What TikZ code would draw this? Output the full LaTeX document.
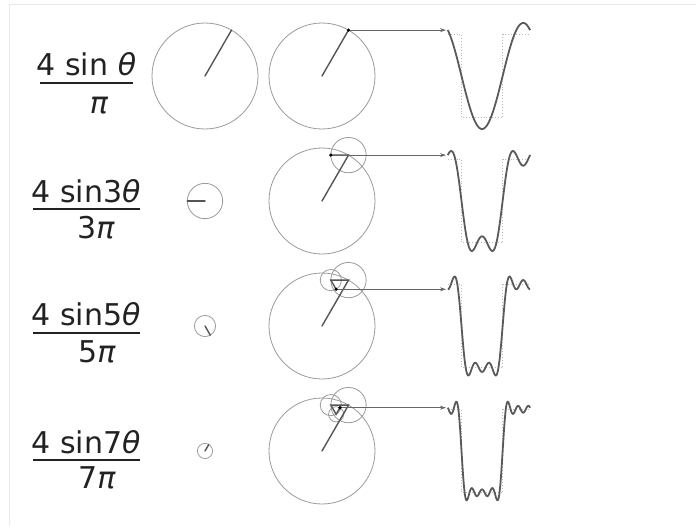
\documentclass[tikz,border=0pt]{standalone}
\usepackage{fontspec}
\setmainfont{DejaVu Sans}
\usetikzlibrary{arrows.meta}
\definecolor{framec}{HTML}{E4EAF4}
\definecolor{circc}{HTML}{9A9A9A}
\definecolor{armc}{HTML}{555555}
\definecolor{wavec}{HTML}{5A5A5A}
\definecolor{sqc}{HTML}{B8B8B8}
\definecolor{inkc}{HTML}{222222}
\tikzset{
  wheel/.style={draw=circc, line width=0.8pt},
  arm/.style={draw=armc, line width=1.4pt, line cap=round},
  wave/.style={draw=wavec, line width=1.8pt, line join=round},
  squarewave/.style={draw=sqc, line width=0.9pt, dotted},
  link/.style={draw=armc!90, line width=0.8pt, -{Stealth[length=6pt,width=4pt]}},
  tipdot/.style={fill=black},
  numer/.style={anchor=base, inner sep=0pt, text=inkc, font=\fontsize{30}{36}\selectfont},
  fbar/.style={draw=inkc, line width=1.8pt},
}
\begin{document}
\begin{tikzpicture}[x=1pt,y=-1pt]
\useasboundingbox (0,0) rectangle (696,527);
% light frame
\draw[framec, line width=1.5pt] (9.5,525.5) -- (9.5,4.5) -- (696,4.5);

% ---------- labels ----------
\node[numer] (n1) at (86.5,75) {4 sin \textit{θ}};
\draw[fbar] (40,83) -- (133,83);
\node[numer] (d1) at (99,113) {\textit{π}};

\node[numer] (n3) at (86,202) {4 sin3\textit{θ}};
\draw[fbar] (33,209) -- (140,209);
\node[numer] (d3) at (96,238) {3\textit{π}};

\node[numer] (n5) at (86,325) {4 sin5\textit{θ}};
\draw[fbar] (33,333) -- (140,333);
\node[numer] (d5) at (97,362) {5\textit{π}};

\node[numer] (n7) at (86,453) {4 sin7\textit{θ}};
\draw[fbar] (33,460) -- (140,460);
\node[numer] (d7) at (97,488) {7\textit{π}};

% ---------- single harmonics (theta = 60 deg) ----------
\draw[wheel] (205,76) circle[radius=53];
\draw[arm] (205,76) -- ++(-60:53);
\draw[wheel] (205,201) circle[radius=17.667];
\draw[arm] (205,201) -- ++(-180:17.667);
\draw[wheel] (205,326) circle[radius=10.6];
\draw[arm] (205,326) -- ++(-300:10.6);
\draw[wheel] (205,451) circle[radius=7.571];
\draw[arm] (205,451) -- ++(-420:7.571);

% ---------- epicycles ----------
% row 1
\coordinate (a1) at (322,76);
\coordinate (t1) at (348.5,30.1);
\draw[wheel] (a1) circle[radius=53];
\draw[arm] (a1) -- (t1);
% row 2
\coordinate (b1) at (322,201);
\coordinate (b3) at (348.5,155.1);
\coordinate (t2) at (330.83,155.1);
\draw[wheel] (b1) circle[radius=53];
\draw[wheel] (b3) circle[radius=17.667];
\draw[arm] (b1) -- (b3) -- (t2);
% row 3
\coordinate (c1) at (322,326);
\coordinate (c3) at (348.5,280.1);
\coordinate (c5) at (330.83,280.1);
\coordinate (t3) at (336.13,289.28);
\draw[wheel] (c1) circle[radius=53];
\draw[wheel] (c3) circle[radius=17.667];
\draw[wheel] (c5) circle[radius=10.6];
\draw[arm] (c1) -- (c3) -- (c5) -- (t3);
% row 4
\coordinate (e1) at (322,451);
\coordinate (e3) at (348.5,405.1);
\coordinate (e5) at (330.83,405.1);
\coordinate (e7) at (336.13,414.28);
\coordinate (t4) at (339.92,407.72);
\draw[wheel] (e1) circle[radius=53];
\draw[wheel] (e3) circle[radius=17.667];
\draw[wheel] (e5) circle[radius=10.6];
\draw[wheel] (e7) circle[radius=7.571];
\draw[arm] (e1) -- (e3) -- (e5) -- (e7) -- (t4);

% ---------- square waves (dotted) ----------
\foreach \cy in {76,201,326,451}{
  \draw[squarewave] (447.8,\cy-41.6) -- (461.5,\cy-41.6) -- (461.5,\cy+41.6)
     -- (502.6,\cy+41.6) -- (502.6,\cy-41.6) -- (530,\cy-41.6);
}

% ---------- partial sums ----------
\draw[wave] plot[domain=0:360,samples=241,variable=\t]
  ({447.8+0.2285*\t},{76-53*sin(60-\t)});
\draw[wave] plot[domain=0:360,samples=241,variable=\t]
  ({447.8+0.2285*\t},{201-53*(sin(60-\t)+sin(3*(60-\t))/3)});
\draw[wave] plot[domain=0:360,samples=301,variable=\t]
  ({447.8+0.2285*\t},{326-53*(sin(60-\t)+sin(3*(60-\t))/3+sin(5*(60-\t))/5)});
\draw[wave] plot[domain=0:360,samples=361,variable=\t]
  ({447.8+0.2285*\t},{451-53*(sin(60-\t)+sin(3*(60-\t))/3+sin(5*(60-\t))/5+sin(7*(60-\t))/7)});

% ---------- connectors from tips to the curves ----------
\coordinate (w1) at (446,30.1);
\coordinate (w2) at (446,155.1);
\coordinate (w3) at (446,289.28);
\coordinate (w4) at (446,407.72);
\draw[link] (t1) -- (w1);
\draw[link] (t2) -- (w2);
\draw[link] (t3) -- (w3);
\draw[link] (t4) -- (w4);
\foreach \p in {t1,t2,t3,t4} \fill[tipdot] (\p) circle[radius=1.8];
\end{tikzpicture}
\end{document}
